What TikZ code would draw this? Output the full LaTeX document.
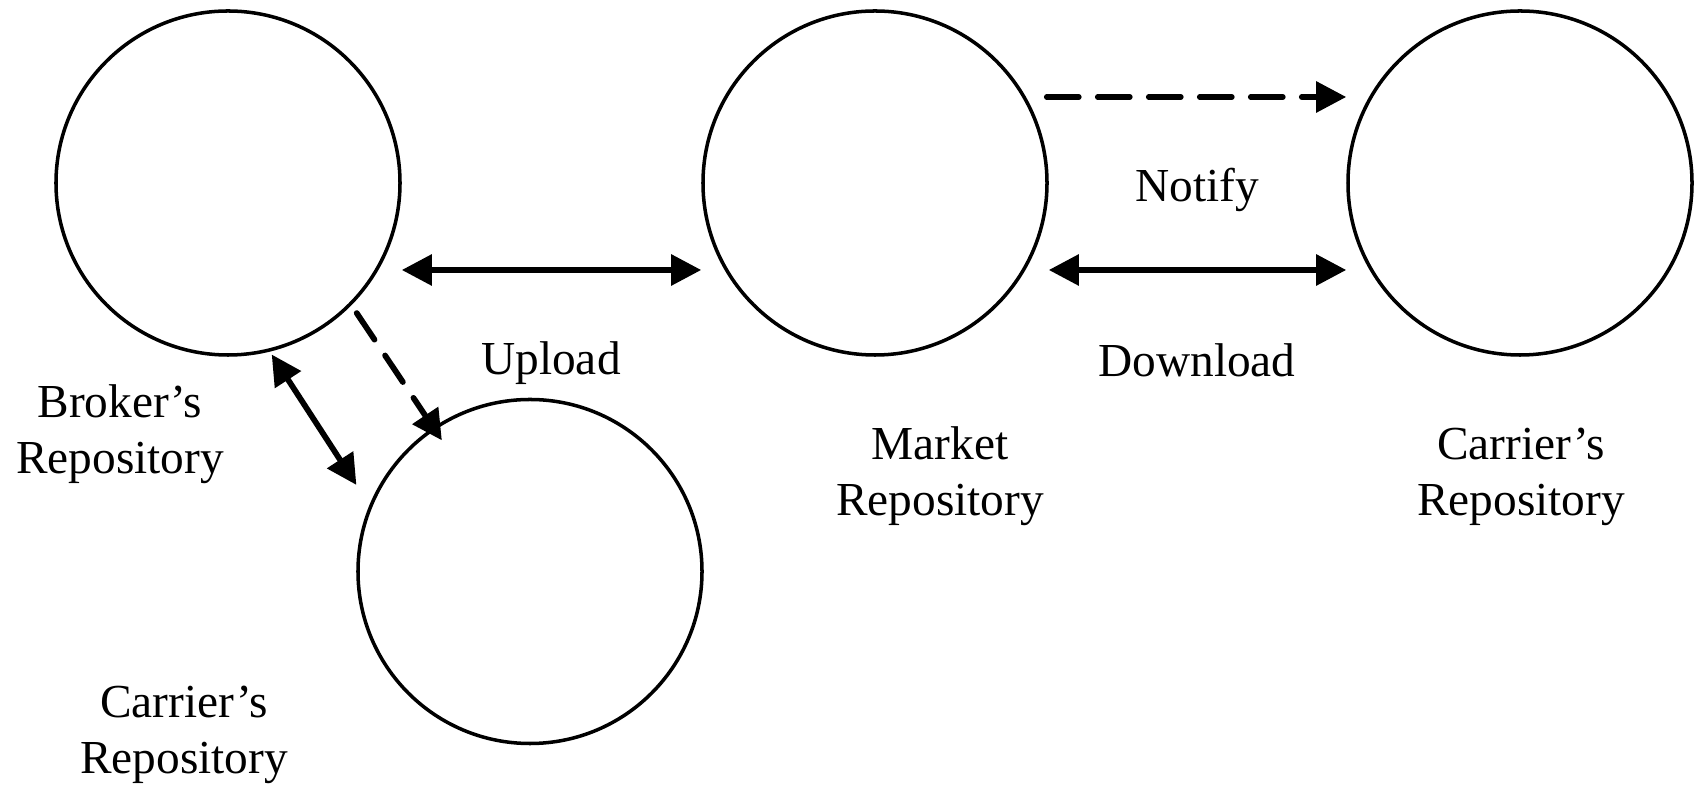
\documentclass[tikz,border=0pt]{standalone}
\usepackage{fontspec}
\setmainfont{Liberation Serif}
\usetikzlibrary{arrows.meta,calc}

\begin{document}
\begin{tikzpicture}[x=0.03cm, y=0.03cm,
    font=\fontsize{40.4pt}{47.8pt}\selectfont,
    >={Triangle[length=0.9cm, width=0.9cm]},
    repo/.style={circle, draw, line width=3pt, minimum size=10.32cm, inner sep=0pt},
    link/.style={line width=4.9pt},
    notice/.style={link, dash pattern=on 0.96cm off 0.57cm, line cap=round},
    lbl/.style={align=center, inner sep=0pt}]
  \useasboundingbox (0,0) rectangle (1694,786);

  % Repository circles
  \node[repo] (broker) at (228,603) {};
  \node[repo] (market) at (875,603) {};
  \node[repo] (carrier) at (1520,603) {};
  \node[repo] (local) at (530,214.5) {};

  % Labels of the repositories
  \node[lbl] (brokerlbl) at (120,351.5) {Broker’s\\Repository};
  \node[lbl] (marketlbl) at (940,309.5) {Market\\Repository};
  \node[lbl] (carrierlbl) at (1521,309.5) {Carrier’s\\Repository};
  \node[lbl] (locallbl) at (184,51) {Carrier’s\\Repository};

  % Labels of the links
  \node[lbl] (uploadlbl) at (551,423) {Upload};
  \node[lbl] (downloadlbl) at (1197,425.5) {Download};
  \node[lbl] (notifylbl) at (1197,596.5) {Notify};

  % Upload and download
  \draw[link, <->] ($(broker.east)+(0,-87)$) -- ($(market.west)+(0,-87)$);
  \draw[link, <->] ($(market.east)+(0,-87)$) -- ($(carrier.west)+(0,-87)$);

  % Notifications (dashed)
  \draw[notice, ->] ($(market.east)+(-2,86)$) -- ($(carrier.west)+(0,86)$);
  \draw[notice, ->] ($(broker.center)+(-45.3:183)$) -- ($(local.center)+(123.9:158)$);

  % Broker to carrier's local repository
  \draw[link, <->] ($(broker.center)+(-75.7:177)$) -- ($(local.center)+(153.5:194)$);
\end{tikzpicture}
\end{document}
